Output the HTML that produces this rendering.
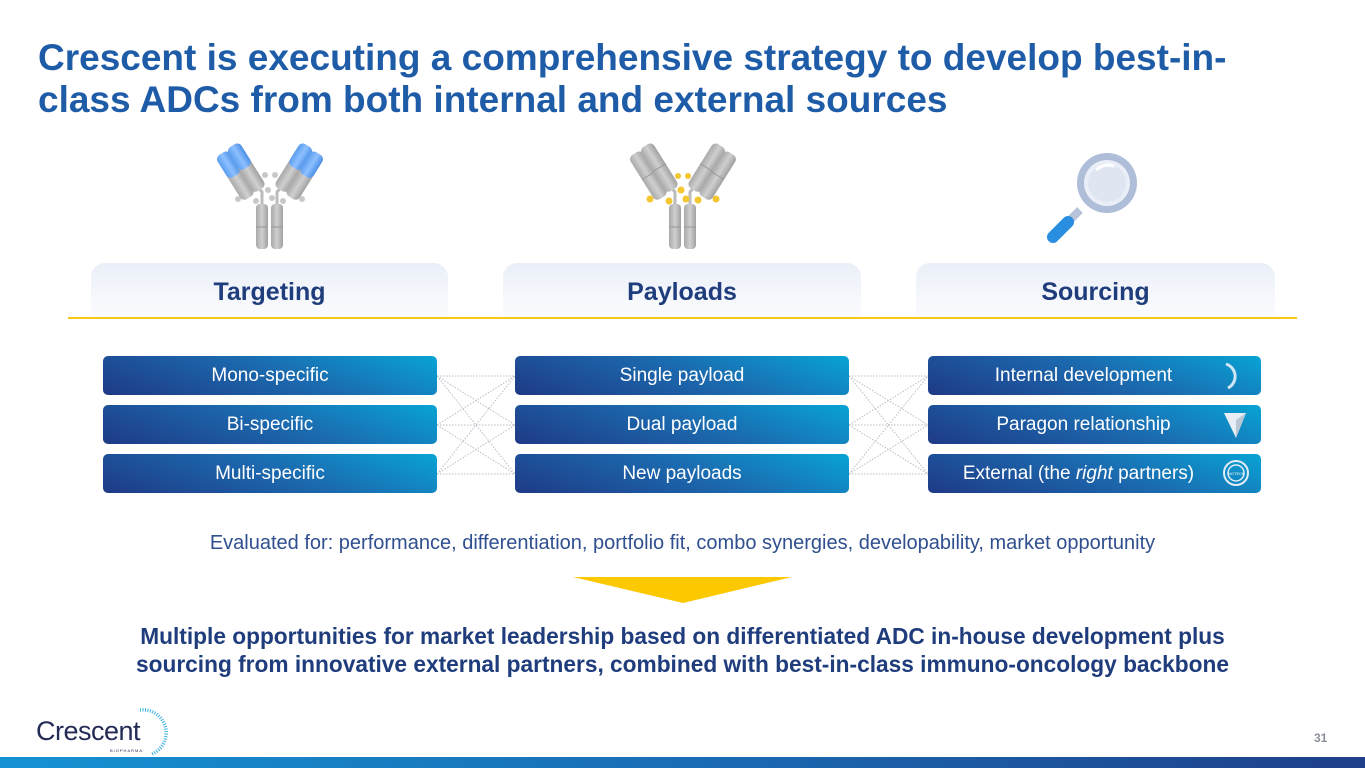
<!DOCTYPE html>
<html><head><meta charset="utf-8"><style>
*{margin:0;padding:0;box-sizing:border-box}
body{width:1365px;height:768px;position:relative;overflow:hidden;background:#fff;font-family:"Liberation Sans",Arial,sans-serif}
.title{position:absolute;left:38px;top:37px;font-size:37px;line-height:42px;font-weight:bold;color:#1f5ca8;white-space:nowrap}
.tab{position:absolute;top:263px;height:55px;border-radius:14px 14px 0 0;background:linear-gradient(#eaeff8,#fbfcfe);text-align:center;font-size:25px;font-weight:bold;color:#1f3d7c;line-height:58px}
.yl{position:absolute;left:68px;top:317px;width:1229px;height:2px;background:#f6c719}
.box{position:absolute;height:39px;border-radius:5px;background:linear-gradient(200deg,#08a4d4 0%,#1b6bb0 45%,#1f3a86 100%);color:#fff;font-size:19px;text-align:center;line-height:39px;white-space:nowrap}
.eval{position:absolute;left:0;width:1365px;top:532px;text-align:center;font-size:20px;color:#2f4f8f;white-space:nowrap}
.concl{position:absolute;left:0;width:1365px;top:622px;text-align:center;font-size:22.7px;line-height:28px;font-weight:bold;color:#1f3d7c;white-space:nowrap}
.bar{position:absolute;left:0;top:757px;width:1365px;height:11px;background:linear-gradient(90deg,#1592d2,#1a6db5 50%,#1f3f8a)}
.pg{position:absolute;left:1314px;top:731px;font-size:12px;color:#8a8f9a;font-weight:bold}
</style></head><body>
<div class="title">Crescent is executing a comprehensive strategy to develop best-in-<br>class ADCs from both internal and external sources</div>

<svg style="position:absolute;left:0;top:0" width="1365" height="768">
<defs>
<linearGradient id="g" x1="0" x2="1"><stop offset="0" stop-color="#a9a9a9"/><stop offset=".5" stop-color="#cfcfcf"/><stop offset="1" stop-color="#a0a0a0"/></linearGradient>
<linearGradient id="b" x1="0" x2="1"><stop offset="0" stop-color="#5a9ef0"/><stop offset=".5" stop-color="#8ec0ff"/><stop offset="1" stop-color="#4a8fe6"/></linearGradient>
<g id="armB"><rect x="-7.5" y="-50" width="15" height="52" rx="5" fill="url(#g)"/><rect x="-7.5" y="-50" width="15" height="26" rx="5" fill="url(#b)"/></g>
<g id="armG"><rect x="-7.5" y="-50" width="15" height="52" rx="5" fill="url(#g)"/><line x1="-7.5" y1="-24" x2="7.5" y2="-24" stroke="#999" stroke-width="1"/></g>
<g id="stem">
 <rect x="-14" y="204" width="12" height="45" rx="4" fill="url(#g)"/><rect x="1" y="204" width="12" height="45" rx="4" fill="url(#g)"/>
 <line x1="-14" y1="227" x2="-2" y2="227" stroke="#999"/><line x1="1" y1="227" x2="13" y2="227" stroke="#999"/>
 <path d="M-8 204 L-8 192 L-16 183 M7 204 L7 192 L15 183" stroke="#bbb" stroke-width="3" fill="none"/>
</g>
</defs>
<!-- antibody 1 -->
<g transform="translate(270,0)">
 <use href="#stem"/>
 <g transform="translate(-22,196) rotate(-32)"><use href="#armB"/></g>
 <g transform="translate(-11,188) rotate(-32)"><use href="#armB"/></g>
 <g transform="translate(11,188) rotate(32)"><use href="#armB"/></g>
 <g transform="translate(22,196) rotate(32)"><use href="#armB"/></g>
 <g fill="#c8c8c8"><circle cx="-32" cy="199" r="3"/><circle cx="-14" cy="201" r="3"/><circle cx="-2" cy="190" r="3"/><circle cx="-5" cy="175" r="3"/><circle cx="5" cy="175" r="3"/><circle cx="13" cy="201" r="3"/><circle cx="2" cy="198" r="3"/><circle cx="32" cy="199" r="3"/></g>
</g>
<!-- antibody 2 -->
<g transform="translate(683,0)">
 <use href="#stem"/>
 <g transform="translate(-22,196) rotate(-32)"><use href="#armG"/></g>
 <g transform="translate(-11,188) rotate(-32)"><use href="#armG"/></g>
 <g transform="translate(11,188) rotate(32)"><use href="#armG"/></g>
 <g transform="translate(22,196) rotate(32)"><use href="#armG"/></g>
 <g fill="#f4c630"><circle cx="-33" cy="199" r="3.5"/><circle cx="-14" cy="201" r="3.5"/><circle cx="-2" cy="190" r="3.5"/><circle cx="-5" cy="176" r="3"/><circle cx="5" cy="176" r="3"/><circle cx="3" cy="199" r="3.5"/><circle cx="15" cy="200" r="3.5"/><circle cx="33" cy="199" r="3.5"/></g>
</g>
<!-- magnifier -->
<g>
 <line x1="1080" y1="210" x2="1068" y2="222" stroke="#b7c3d8" stroke-width="8"/>
 <line x1="1068" y1="222" x2="1053" y2="237" stroke="#2a8ee0" stroke-width="12" stroke-linecap="round"/>
 <circle cx="1107" cy="183" r="30" fill="#aebdd8"/>
 <circle cx="1107" cy="183" r="23" fill="#e9eef7"/>
 <circle cx="1107" cy="183" r="19" fill="#dfe6f2"/>
 <path d="M1096 170 Q1104 163 1114 166" stroke="#fff" stroke-width="3" fill="none"/>
</g>
<!-- connectors -->
<g stroke="#b8bcc4" stroke-width="1" stroke-dasharray="1.5,1.5" fill="none">
 <path d="M437 376 L515 376 M437 376 L515 425 M437 376 L515 474 M437 425 L515 376 M437 425 L515 425 M437 425 L515 474 M437 474 L515 376 M437 474 L515 425 M437 474 L515 474"/>
 <path d="M849 376 L928 376 M849 376 L928 425 M849 376 L928 474 M849 425 L928 376 M849 425 L928 425 M849 425 L928 474 M849 474 L928 376 M849 474 L928 425 M849 474 L928 474"/>
</g>
<polygon points="573,577 792,577 683,603" fill="#fcc800"/>
<!-- logo ring -->
<g fill="none" stroke="#3ab0e0" stroke-width="3.5" stroke-dasharray="1,1.5">
 <path d="M140 710 A23 23 0 0 1 152 754"/>
</g>
</svg>

<div class="tab" style="left:91px;width:357px">Targeting</div>
<div class="tab" style="left:503px;width:358px">Payloads</div>
<div class="tab" style="left:916px;width:359px">Sourcing</div>
<div class="yl"></div>

<div class="box" style="left:103px;top:356px;width:334px">Mono-specific</div>
<div class="box" style="left:103px;top:405px;width:334px">Bi-specific</div>
<div class="box" style="left:103px;top:454px;width:334px">Multi-specific</div>
<div class="box" style="left:515px;top:356px;width:334px">Single payload</div>
<div class="box" style="left:515px;top:405px;width:334px">Dual payload</div>
<div class="box" style="left:515px;top:454px;width:334px">New payloads</div>
<div class="box" style="left:928px;top:356px;width:333px;padding-right:22px">Internal development</div>
<div class="box" style="left:928px;top:405px;width:333px;padding-right:22px">Paragon relationship</div>
<div class="box" style="left:928px;top:454px;width:333px;padding-right:32px">External (the <i>right</i> partners)</div>
<svg style="position:absolute;left:1218px;top:360px" width="40" height="130">
 <path d="M8 4 A13 13 0 0 1 10 28" stroke="#cfe6f5" stroke-width="3" fill="none"/>
 <polygon points="6,53 28,53 18,78" fill="#e8eef5"/><polygon points="18,60 28,53 18,78" fill="#b9c6d6"/>
 <circle cx="18" cy="113" r="12" fill="none" stroke="#e0ecf7" stroke-width="2"/><circle cx="18" cy="113" r="8" fill="none" stroke="#e0ecf7" stroke-width="1.5"/>
 <text x="18" y="115" font-size="4" fill="#fff" text-anchor="middle" font-family="Liberation Sans">BIOTECH</text>
</svg>

<div class="eval">Evaluated for: performance, differentiation, portfolio fit, combo synergies, developability, market opportunity</div>
<div class="concl">Multiple opportunities for market leadership based on differentiated ADC in-house development plus<br>sourcing from innovative external partners, combined with best-in-class immuno-oncology backbone</div>

<div style="position:absolute;left:36px;top:716px;font-size:27px;color:#232a55;letter-spacing:-0.5px">Crescent</div>
<div style="position:absolute;left:110px;top:748px;font-size:4px;color:#232a55;letter-spacing:1px">BIOPHARMA</div>
<div class="pg">31</div>
<div class="bar"></div>
</body></html>
